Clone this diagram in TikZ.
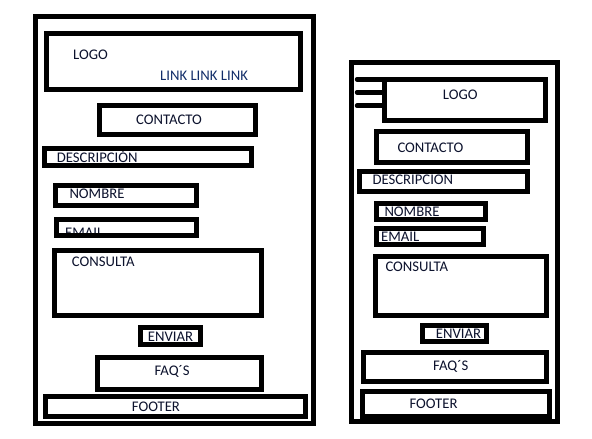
\documentclass[tikz,border=0pt]{standalone}
\usepackage{fontspec}
\setmainfont{Carlito}
\definecolor{ink}{RGB}{12,18,45}
\definecolor{linkblue}{RGB}{18,45,105}
\tikzset{
  frame/.style={line width=5pt},
  box/.style={line width=5pt},
  lbl/.style={anchor=base west,inner sep=0pt,text=ink,font=\fontsize{14.7}{17}\selectfont},
  burger/.style={line width=4.5pt,line cap=round}
}
\begin{document}
\begin{tikzpicture}[x=1pt,y=-1pt]
\useasboundingbox[fill=white] (0,0) rectangle (592,439);
% ---------- left (desktop) texts ----------
\node[lbl] (lLogo) at (73,59) {LOGO};
\node[lbl,text=linkblue] (lLink) at (160,80.3) {LINK LINK LINK};
\node[lbl] (lCont) at (136,124) {CONTACTO};
\node[lbl] (lDesc) at (56.7,162.3) {DESCRIPCIÓN};
\node[lbl] (lNom) at (69.3,198) {NOMBRE};
\node[lbl] (lMail) at (65,237.5) {EMAIL};
\node[lbl] (lCons) at (71.7,266) {CONSULTA};
\node[lbl] (lEnv) at (147.7,341) {ENVIAR};
\node[lbl] (lFaq) at (154.3,375.7) {FAQ´S};
\node[lbl] (lFoot) at (131.7,411) {FOOTER};
% ---------- left boxes ----------
\draw[frame] (35.5,16.5) rectangle (313.5,423.5);
\draw[box] (46.5,33.5) rectangle (300,89.5);
\draw[box] (99.5,105.5) rectangle (255,134.5);
\draw[box] (44.7,148) rectangle (251.3,165);
\draw[box] (55.8,185.5) rectangle (196.5,205);
\draw[box] (56.5,219.3) rectangle (196.5,235);
\draw[box] (54.8,250.8) rectangle (261.3,315.2);
\draw[box] (140.7,327.5) rectangle (200.2,344.2);
\draw[box] (97.7,357.5) rectangle (261.2,389.2);
\draw[box] (45.5,396.5) rectangle (305.2,416.5);
% ---------- right (mobile) texts ----------
\node[lbl] (rLogo) at (442.7,99) {LOGO};
\node[lbl] (rCont) at (397.3,152) {CONTACTO};
\node[lbl] (rDesc) at (372.3,184.7) {DESCRIPCIÓN};
\node[lbl] (rNom) at (384.3,216) {NOMBRE};
\node[lbl] (rMail) at (381,241) {EMAIL};
\node[lbl] (rCons) at (385.3,271.3) {CONSULTA};
\node[lbl] (rEnv) at (435.7,338.7) {ENVIAR};
\node[lbl] (rFaq) at (433,370.3) {FAQ´S};
\node[lbl] (rFoot) at (409.3,408) {FOOTER};
% ---------- right boxes ----------
\draw[frame] (351.5,62.5) rectangle (557.5,421.5);
\draw[burger] (357,79.3) -- (384,79.3);
\draw[burger] (357,92.3) -- (384,92.3);
\draw[burger] (357,105.7) -- (384,105.7);
\draw[box] (384.2,79.3) rectangle (545.5,120.2);
\draw[box] (376.5,131.8) rectangle (527.2,162.2);
\draw[box] (359.3,171.3) rectangle (527.5,191.5);
\draw[box] (376.5,203.5) rectangle (485.2,219.5);
\draw[box] (376.5,228.2) rectangle (483.5,244.2);
\draw[box] (375.5,256.5) rectangle (546.5,315.5);
\draw[box] (422.5,325.8) rectangle (486.2,341.8);
\draw[box] (363.5,352.5) rectangle (546.5,381.8);
\draw[box] (362.5,391.5) rectangle (549.8,416.5);
\end{tikzpicture}
\end{document}
